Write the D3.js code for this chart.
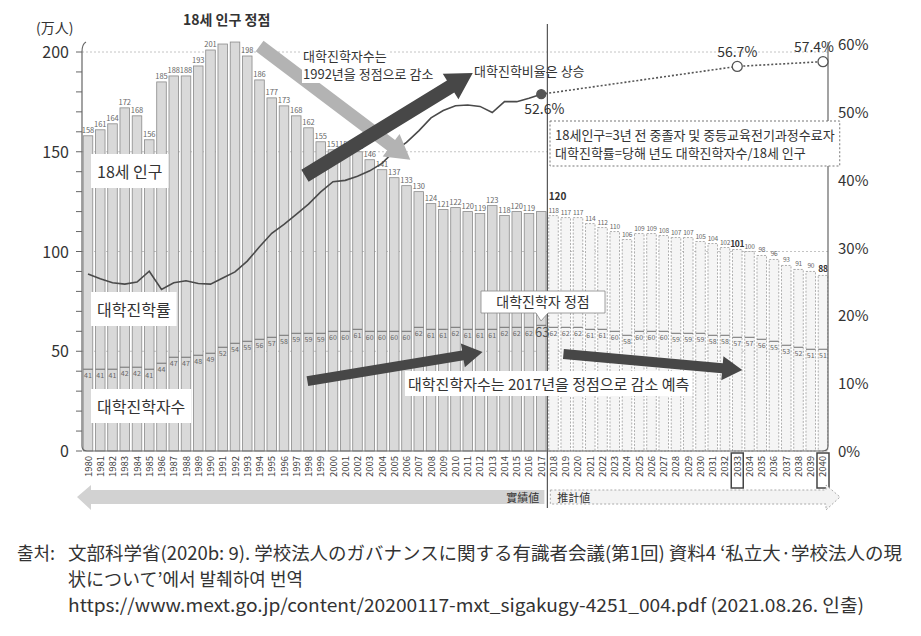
<!DOCTYPE html>
<html>
<head>
<meta charset="utf-8">
<script src="https://cdn.jsdelivr.net/npm/d3@7"></script>
<style>
body { margin: 0; background: #fff; }
svg text { font-family: "Noto Sans CJK KR", "Noto Sans", sans-serif; fill: #333; }
</style>
</head>
<body>
<svg id="chart" width="921" height="636"></svg>
<script>
// 18세 인구 (만 명), 1980-2017 실적, 2018-2040 추계
const years = d3.range(1980, 2041);
const population = [158,161,164,172,168,156,185,188,188,193,
    201,204,205,198,186,177,173,168,162,155,
    151,151,150,146,141,137,133,130,124,121,
    122,120,119,123,118,120,119,120,
    118,117,117,114,112,110,106,109,109,108,107,107,105,104,102,101,100,98,96,93,91,90,88];
// 대학진학자수 (만 명)
const entrants = [41,41,41,42,42,41,44,47,47,48,
    49,52,54,55,56,57,58,59,59,59,
    60,60,61,60,60,60,60,62,61,61,
    62,61,61,61,62,62,62,63,
    62,62,62,61,61,60,58,60,60,60,59,59,59,58,58,57,57,56,55,53,52,51,51];
// 대학진학률 (%), 1980-2017
const rateYears = d3.range(1980, 2018);
const rate = [26.1,25.4,24.8,24.6,24.9,26.5,23.8,24.8,25.1,24.7,
    24.6,25.5,26.4,28.0,30.1,32.1,33.4,34.9,36.4,38.2,
    39.7,39.9,40.5,41.3,42.4,44.2,45.5,47.2,49.1,50.2,
    50.9,51.0,50.8,49.9,51.5,51.5,52.0,52.6];
const projYears = [2017, 2033, 2040];
const projRate = [52.6, 56.7, 57.4];
const leftTicks = [0, 50, 100, 150, 200];
const rightTicks = [0, 10, 20, 30, 40, 50, 60];
const lastActual = 2017;
const hiddenLabels = [1991, 1992, 2017];
const boldYears = [2033, 2040];

const svg = d3.select("#chart");

const x = d3.scaleBand().domain(years).range([82, 829]).paddingInner(0.22).paddingOuter(0.1);
const y = d3.scaleLinear().domain([0, 200]).range([451, 52]);
const y2 = d3.scaleLinear().domain([0, 60]).range([451, 44]);
const cx = yr => x(yr) + x.bandwidth() / 2;
const xAt = t => x(1980) + (t - 1980) * x.step();

const rows = years.map((yr, i) => ({year: yr, pop: population[i], ent: entrants[i], proj: yr > lastActual}));

// grid
svg.append("g").selectAll("line").data(leftTicks.slice(1)).join("line")
    .attr("x1", 82).attr("x2", 828)
    .attr("y1", d => y(d)).attr("y2", d => y(d))
    .attr("stroke", "#c4c4c4").attr("stroke-dasharray", "2,2");

// bars
const bars = svg.append("g");
bars.selectAll("rect").data(rows).join("rect")
    .attr("x", d => x(d.year))
    .attr("y", d => y(d.pop))
    .attr("width", x.bandwidth())
    .attr("height", d => y(0) - y(d.pop))
    .attr("fill", d => d.proj ? "#f5f5f5" : "#d9d9d9")
    .attr("stroke", d => d.proj ? "#9a9a9a" : "#8a8a8a")
    .attr("stroke-width", 0.8)
    .attr("stroke-dasharray", d => d.proj ? "2,1.5" : null);

// entrants level inside each bar
bars.selectAll("line.ent").data(rows).join("line")
    .attr("class", "ent")
    .attr("x1", d => x(d.year)).attr("x2", d => x(d.year) + x.bandwidth())
    .attr("y1", d => y(d.ent)).attr("y2", d => y(d.ent))
    .attr("stroke", "#6f6f6f").attr("stroke-width", 1);

bars.selectAll("text.entLabel").data(rows.filter(d => d.year !== lastActual)).join("text")
    .attr("class", "entLabel")
    .attr("x", d => cx(d.year))
    .attr("y", d => y(d.ent) + 9)
    .attr("text-anchor", "middle")
    .style("font-size", "7px").style("fill", "#666")
    .text(d => d.ent);

bars.selectAll("text.popLabel").data(rows.filter(d => !hiddenLabels.includes(d.year))).join("text")
    .attr("class", "popLabel")
    .attr("x", d => cx(d.year))
    .attr("y", d => y(d.pop) - 3)
    .attr("text-anchor", "middle")
    .style("font-size", d => boldYears.includes(d.year) ? "8.5px" : (d.proj ? "6.6px" : "7.5px"))
    .style("letter-spacing", d => d.proj ? "-0.3px" : null)
    .style("font-weight", d => boldYears.includes(d.year) ? "bold" : null)
    .style("fill", d => boldYears.includes(d.year) ? "#333" : "#666")
    .text(d => d.pop);

// 2017 peak labels
const last = rows.find(d => d.year === lastActual);
svg.append("text")
    .attr("x", cx(lastActual + 1) + 4).attr("y", y(last.pop) - 12)
    .attr("text-anchor", "middle")
    .style("font-size", "10px").style("font-weight", "bold")
    .text(last.pop);
svg.append("text")
    .attr("x", cx(lastActual) + 1).attr("y", y(last.ent) + 12)
    .attr("text-anchor", "middle")
    .style("font-size", "13px").style("fill", "#555")
    .text(last.ent);

// frame and left axis
svg.append("path")
    .attr("d", `M86,42 Q82,44 82,52 L82,446 Q82,451 87,451 L823,451 Q828,451 828,446 L828,42`)
    .attr("fill", "none").attr("stroke", "#666").attr("stroke-width", 1.2);
svg.append("g").selectAll("line").data(d3.range(0, 201, 10)).join("line")
    .attr("x1", 76).attr("x2", 82)
    .attr("y1", d => y(d)).attr("y2", d => y(d))
    .attr("stroke", "#666");
svg.append("g").selectAll("text").data(leftTicks).join("text")
    .attr("x", 69).attr("y", d => y(d) + 6)
    .attr("text-anchor", "end")
    .style("font-size", "16px")
    .text(d => d);
svg.append("text").attr("x", 36).attr("y", 33)
    .style("font-size", "14px").style("font-family", "'Noto Sans CJK JP'")
    .text("(万人)");
svg.append("g").selectAll("text").data(rightTicks).join("text")
    .attr("x", 838).attr("y", d => y2(d) + 6)
    .style("font-size", "15px")
    .text(d => d + "%");

// divider between actual and projection
const divX = (x(lastActual) + x.bandwidth() + x(lastActual + 1)) / 2;
svg.append("line")
    .attr("x1", divX).attr("x2", divX).attr("y1", 24).attr("y2", 508)
    .attr("stroke", "#555").attr("stroke-width", 1.2);

// rate line
const line = d3.line().x(d => cx(d[0])).y(d => y2(d[1]));
svg.append("path")
    .datum(rateYears.map((yr, i) => [yr, rate[i]]))
    .attr("d", line)
    .attr("fill", "none").attr("stroke", "#4a4a4a").attr("stroke-width", 1.6);
svg.append("path")
    .datum(projYears.map((yr, i) => [yr, projRate[i]]))
    .attr("d", line)
    .attr("fill", "none").attr("stroke", "#555").attr("stroke-width", 1.6)
    .attr("stroke-dasharray", "2,2");
svg.append("g").selectAll("circle").data(projYears.map((yr, i) => [yr, projRate[i]])).join("circle")
    .attr("cx", d => cx(d[0])).attr("cy", d => y2(d[1]))
    .attr("r", (d, i) => i === 0 ? 4.5 : 5)
    .attr("fill", (d, i) => i === 0 ? "#555" : "#fff")
    .attr("stroke", "#555").attr("stroke-width", 1.3);
svg.append("text").attr("x", cx(2017) - 17).attr("y", y2(52.6) + 20)
    .style("font-size", "14px").text("52.6%");
svg.append("text").attr("x", cx(2033)).attr("y", y2(56.7) - 9)
    .attr("text-anchor", "middle").style("font-size", "14px").text("56.7%");
svg.append("text").attr("x", cx(2040) + 11).attr("y", y2(57.4) - 10)
    .attr("text-anchor", "end").style("font-size", "14px").text("57.4%");

// arrows
function arrowPath(x1, y1, x2, y2, w, hw, hl) {
    const dx = x2 - x1, dy = y2 - y1, L = Math.hypot(dx, dy);
    const ux = dx / L, uy = dy / L, nx = -uy, ny = ux;
    const bx = x2 - ux * hl, by = y2 - uy * hl;
    const pts = [[x1 + nx * w / 2, y1 + ny * w / 2], [bx + nx * w / 2, by + ny * w / 2],
        [bx + nx * hw / 2, by + ny * hw / 2], [x2, y2], [bx - nx * hw / 2, by - ny * hw / 2],
        [bx - nx * w / 2, by - ny * w / 2], [x1 - nx * w / 2, y1 - ny * w / 2]];
    return "M" + pts.map(p => p.join(",")).join("L") + "Z";
}
const arrows = [
    {from: [1994.4, 203], to: [2006.7, 146], w: 13, hw: 28, hl: 24, color: "#b3b3b3"},
    {from: [1998.1, 138], to: [2011.8, 189.5], w: 14, hw: 30, hl: 26, color: "#474747"},
    {from: [1998.3, 35], to: [2012.6, 49.6], w: 10, hw: 24, hl: 20, color: "#474747"},
    {from: [2019.2, 48.6], to: [2033.8, 40.6], w: 10, hw: 24, hl: 20, color: "#474747"}
];

// text boxes with white background
function label(g, lines, x0, y0, opts = {}) {
    const size = opts.size || 13, lh = opts.lh || size * 1.3;
    const grp = g.append("g");
    const bg = grp.append("rect").attr("fill", "#fff");
    const t = grp.append("text").style("font-size", size + "px");
    lines.forEach((s, i) => t.append("tspan").attr("x", x0).attr("y", y0 + i * lh).text(s));
    const b = t.node().getBBox(), p = opts.pad || 3;
    bg.attr("x", b.x - p).attr("y", b.y - p + 1).attr("width", b.width + 2 * p).attr("height", b.height + 2 * p - 2);
    if (opts.border) bg.attr("stroke", "#777").attr("stroke-dasharray", opts.border);
    if (!opts.bg && !opts.border) bg.attr("fill", "none");
    return grp;
}

svg.append("path").datum(arrows[0])
    .attr("d", a => arrowPath(xAt(a.from[0]), y(a.from[1]), xAt(a.to[0]), y(a.to[1]), a.w, a.hw, a.hl))
    .attr("fill", a => a.color);
const ann = svg.append("g");
label(ann, ["대학진학자수는"], 303, 61, {size: 13, bg: true, pad: 1});
label(ann, ["1992년을 정점으로 감소"], 303, 79, {size: 13, bg: true, pad: 1});
svg.append("g").selectAll("path").data(arrows.slice(1)).join("path")
    .attr("d", a => arrowPath(xAt(a.from[0]), y(a.from[1]), xAt(a.to[0]), y(a.to[1]), a.w, a.hw, a.hl))
    .attr("fill", a => a.color);

const ann2 = svg.append("g");
ann2.append("text").attr("x", 183).attr("y", 25)
    .style("font-size", "14px").style("font-weight", "bold").text("18세 인구 정점");
label(ann2, ["대학진학비율은 상승"], 474, 76, {size: 13});
label(ann2, ["18세 인구"], 97, 178, {size: 16, bg: true, pad: 6});
label(ann2, ["대학진학률"], 97, 316, {size: 16, bg: true, pad: 6});
label(ann2, ["대학진학자수"], 97, 413, {size: 16, bg: true, pad: 6});
label(ann2, ["대학진학자수는 2017년을 정점으로 감소 예측"], 408, 390, {size: 15, bg: true, pad: 3});
label(ann2, ["18세인구=3년 전 중졸자 및 중등교육전기과정수료자", "대학진학률=당해 년도 대학진학자수/18세 인구"], 555, 140,
    {size: 13, lh: 18, border: "2,2", pad: 5});
// peak callout
const peak = ann2.append("g");
peak.append("path")
    .attr("d", `M481,291 L605,291 L605,313 L548,313 L541,321 L536,313 L481,313 Z`)
    .attr("fill", "#fff").attr("stroke", "#888").attr("stroke-width", 0.8);
peak.append("text").attr("x", 543).attr("y", 307).attr("text-anchor", "middle")
    .style("font-size", "14px").text("대학진학자 정점");

// year labels
const xl = svg.append("g");
xl.selectAll("text").data(years).join("text")
    .attr("transform", d => `translate(${cx(d) + 3.5},456) rotate(-90)`)
    .attr("text-anchor", "end")
    .style("font-size", "9.5px").style("fill", "#444")
    .text(d => d);
xl.selectAll("rect").data(boldYears).join("rect")
    .attr("x", d => cx(d) - 6).attr("y", 453)
    .attr("width", 12).attr("height", 35)
    .attr("fill", "none").attr("stroke", "#444").attr("stroke-width", 1.5);

// actual / projection band
const band = svg.append("g");
band.append("path")
    .attr("d", `M77,497 L91,485 L91,490 L${divX - 3},490 L${divX - 3},504 L91,504 L91,510 Z`)
    .attr("fill", "#d2d2d2");
band.append("text").attr("x", divX - 8).attr("y", 502).attr("text-anchor", "end")
    .style("font-size", "11px").style("font-family", "'Noto Sans CJK TC'").text("實績値");
band.append("path")
    .attr("d", `M${divX + 3},490 L826,490 L826,485 L840,497 L826,510 L826,504 L${divX + 3},504 Z`)
    .attr("fill", "#f3f3f3").attr("stroke", "#aaa").attr("stroke-dasharray", "2,2");
band.append("text").attr("x", divX + 10).attr("y", 502)
    .style("font-size", "11px").style("font-family", "'Noto Sans CJK TC'").text("推計値");

// source
const src = svg.append("g").style("font-size", "18px");
src.append("text").attr("x", 17).attr("y", 560).text("출처:");
src.append("text").attr("x", 68).attr("y", 560).style("font-family", "'Noto Sans CJK JP'")
    .attr("textLength", 834).attr("lengthAdjust", "spacingAndGlyphs")
    .text("文部科学省(2020b: 9). 学校法人のガバナンスに関する有識者会議(第1回) 資料4 ‘私立大·学校法人の現");
src.append("text").attr("x", 68).attr("y", 586).style("font-family", "'Noto Sans CJK JP'")
    .text("状について’에서 발췌하여 번역");
src.append("text").attr("x", 68).attr("y", 612)
    .attr("textLength", 796).attr("lengthAdjust", "spacingAndGlyphs")
    .text("https://www.mext.go.jp/content/20200117-mxt_sigakugy-4251_004.pdf (2021.08.26. 인출)");
</script>
</body>
</html>
